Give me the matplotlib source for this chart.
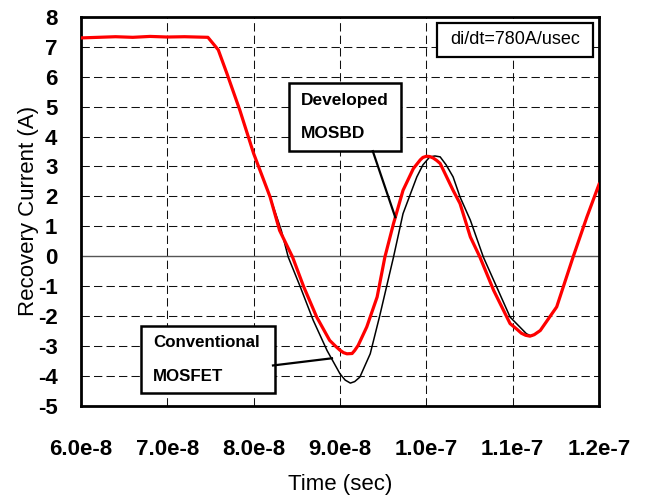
import matplotlib
matplotlib.use("Agg")
import matplotlib.pyplot as plt
from matplotlib.patches import Rectangle

plt.rcParams['font.family'] = ['Liberation Sans', 'DejaVu Sans']
plt.rcParams['axes.unicode_minus'] = False

# Developed MOSBD recovery waveform (time in s, current in A)
t_mosbd = [6.00e-8, 6.20e-8, 6.40e-8, 6.60e-8, 6.80e-8, 7.00e-8, 7.20e-8, 7.47e-8,
           7.59e-8, 7.69e-8, 7.84e-8, 8.00e-8, 8.19e-8, 8.30e-8, 8.45e-8, 8.58e-8,
           8.73e-8, 8.88e-8, 8.95e-8, 9.00e-8, 9.04e-8, 9.08e-8, 9.14e-8, 9.17e-8,
           9.21e-8, 9.31e-8, 9.43e-8, 9.52e-8, 9.62e-8, 9.73e-8, 9.85e-8, 9.93e-8,
           9.96e-8, 1.000e-7, 1.004e-7, 1.008e-7, 1.012e-7, 1.016e-7, 1.031e-7,
           1.039e-7, 1.051e-7, 1.062e-7, 1.078e-7, 1.097e-7, 1.105e-7, 1.110e-7,
           1.115e-7, 1.120e-7, 1.125e-7, 1.132e-7, 1.151e-7, 1.170e-7, 1.186e-7,
           1.200e-7]
i_mosbd = [7.30, 7.32, 7.34, 7.32, 7.35, 7.33, 7.34, 7.32,
           6.90, 6.11, 4.88, 3.43, 1.98, 0.86, -0.03, -1.03,
           -2.04, -2.82, -3.02, -3.15, -3.23, -3.27, -3.26, -3.16,
           -2.99, -2.37, -1.37, -0.03, 1.09, 2.20, 2.93, 3.22,
           3.30, 3.34, 3.33, 3.28, 3.20, 3.10, 2.20,
           1.76, 0.64, -0.03, -1.15, -2.26, -2.45, -2.58,
           -2.65, -2.68, -2.63, -2.49, -1.70, -0.03, 1.31,
           2.40]

# Conventional MOSFET recovery waveform
t_mosfet = [6.00e-8, 6.20e-8, 6.40e-8, 6.60e-8, 6.80e-8, 7.00e-8, 7.20e-8, 7.47e-8,
            7.59e-8, 7.69e-8, 7.84e-8, 8.00e-8, 8.19e-8, 8.32e-8, 8.40e-8, 8.54e-8,
            8.69e-8, 8.85e-8, 9.00e-8, 9.06e-8, 9.12e-8, 9.17e-8, 9.23e-8, 9.35e-8,
            9.46e-8, 9.62e-8, 9.73e-8, 9.89e-8, 9.96e-8, 1.004e-7, 1.010e-7,
            1.016e-7, 1.023e-7, 1.031e-7, 1.039e-7, 1.051e-7, 1.066e-7, 1.097e-7,
            1.116e-7, 1.122e-7, 1.132e-7, 1.151e-7, 1.170e-7, 1.186e-7, 1.200e-7]
i_mosfet = [7.30, 7.32, 7.34, 7.32, 7.35, 7.33, 7.34, 7.32,
            6.90, 6.11, 4.88, 3.43, 1.98, 0.86, -0.03, -1.03,
            -2.15, -3.16, -3.94, -4.15, -4.25, -4.20, -4.05, -3.27,
            -2.00, -0.03, 1.42, 2.65, 3.05, 3.32, 3.35,
            3.32, 3.05, 2.65, 1.98, 1.20, -0.03, -2.04,
            -2.60, -2.68, -2.49, -1.70, -0.03, 1.31, 2.40]

x_ticks = [6.0e-8, 7.0e-8, 8.0e-8, 9.0e-8, 1.0e-7, 1.1e-7, 1.2e-7]
x_tick_labels = ["6.0e-8", "7.0e-8", "8.0e-8", "9.0e-8", "1.0e-7", "1.1e-7", "1.2e-7"]
y_ticks = list(range(-5, 9))

fig = plt.figure(figsize=(6.5, 4.97), dpi=100)
ax = fig.add_axes([81 / 650, 1 - 405.5 / 497, 518 / 650, 388.5 / 497])

ax.set_xlim(x_ticks[0], x_ticks[-1])
ax.set_ylim(y_ticks[0], y_ticks[-1])

# dashed grid, solid zero line
dash = (0, (8, 4))
for xv in x_ticks[1:-1]:
    ax.axvline(xv, color='#111111', lw=0.75, ls=dash, zorder=1)
for yv in y_ticks[1:-1]:
    if yv == 0:
        ax.axhline(0, color='#555555', lw=1.0, zorder=1)
    else:
        ax.axhline(yv, color='#111111', lw=0.75, ls=dash, zorder=1)

ax.plot(t_mosfet, i_mosfet, color='black', lw=1.1, zorder=3)
ax.plot(t_mosbd, i_mosbd, color='#ff0000', lw=2.3, zorder=4)

ax.set_xticks(x_ticks)
ax.set_xticklabels(x_tick_labels)
ax.set_yticks(y_ticks)
ax.tick_params(axis='both', length=0, labelsize=16)
ax.tick_params(axis='x', pad=24)
ax.tick_params(axis='y', pad=17)
for lab in ax.get_xticklabels() + ax.get_yticklabels():
    lab.set_fontweight('bold')

for sp in ax.spines.values():
    sp.set_linewidth(2.0)
    sp.set_color('black')

ax.set_xlabel("Time (sec)", fontsize=16, labelpad=10)
ax.set_ylabel("Recovery Current (A)", fontsize=16, labelpad=-1)

# condition box
ax.add_patch(Rectangle((0.687, 0.897), 0.301, 0.088, transform=ax.transAxes,
                       fill=True, facecolor='white', edgecolor='black', lw=1.6, zorder=5))
ax.text(0.8375, 0.941, "di/dt=780A/usec", transform=ax.transAxes, ha='center',
        va='center', fontsize=13, zorder=6)

# Developed MOSBD label
ax.add_patch(Rectangle((0.4015, 0.655), 0.2163, 0.175, transform=ax.transAxes,
                       fill=True, facecolor='white', edgecolor='black', lw=1.8, zorder=5))
ax.text(0.4247, 0.784, "Developed", transform=ax.transAxes, ha='left', va='center',
        fontsize=12.5, fontweight='bold', zorder=6)
ax.text(0.4247, 0.701, "MOSBD", transform=ax.transAxes, ha='left', va='center',
        fontsize=12.5, fontweight='bold', zorder=6)
ax.plot([9.38e-8, 9.64e-8], [3.51, 1.30], color='black', lw=1.6, zorder=5)

# Conventional MOSFET label
ax.add_patch(Rectangle((0.1158, 0.032), 0.2587, 0.1726, transform=ax.transAxes,
                       fill=True, facecolor='white', edgecolor='black', lw=1.8, zorder=5))
ax.text(0.139, 0.161, "Conventional", transform=ax.transAxes, ha='left', va='center',
        fontsize=12.2, fontweight='bold', zorder=6)
ax.text(0.139, 0.0734, "MOSFET", transform=ax.transAxes, ha='left', va='center',
        fontsize=12.2, fontweight='bold', zorder=6)
ax.plot([8.224e-8, 8.907e-8], [-3.66, -3.42], color='black', lw=1.6, zorder=5)

fig.savefig("out.png", dpi=100)
